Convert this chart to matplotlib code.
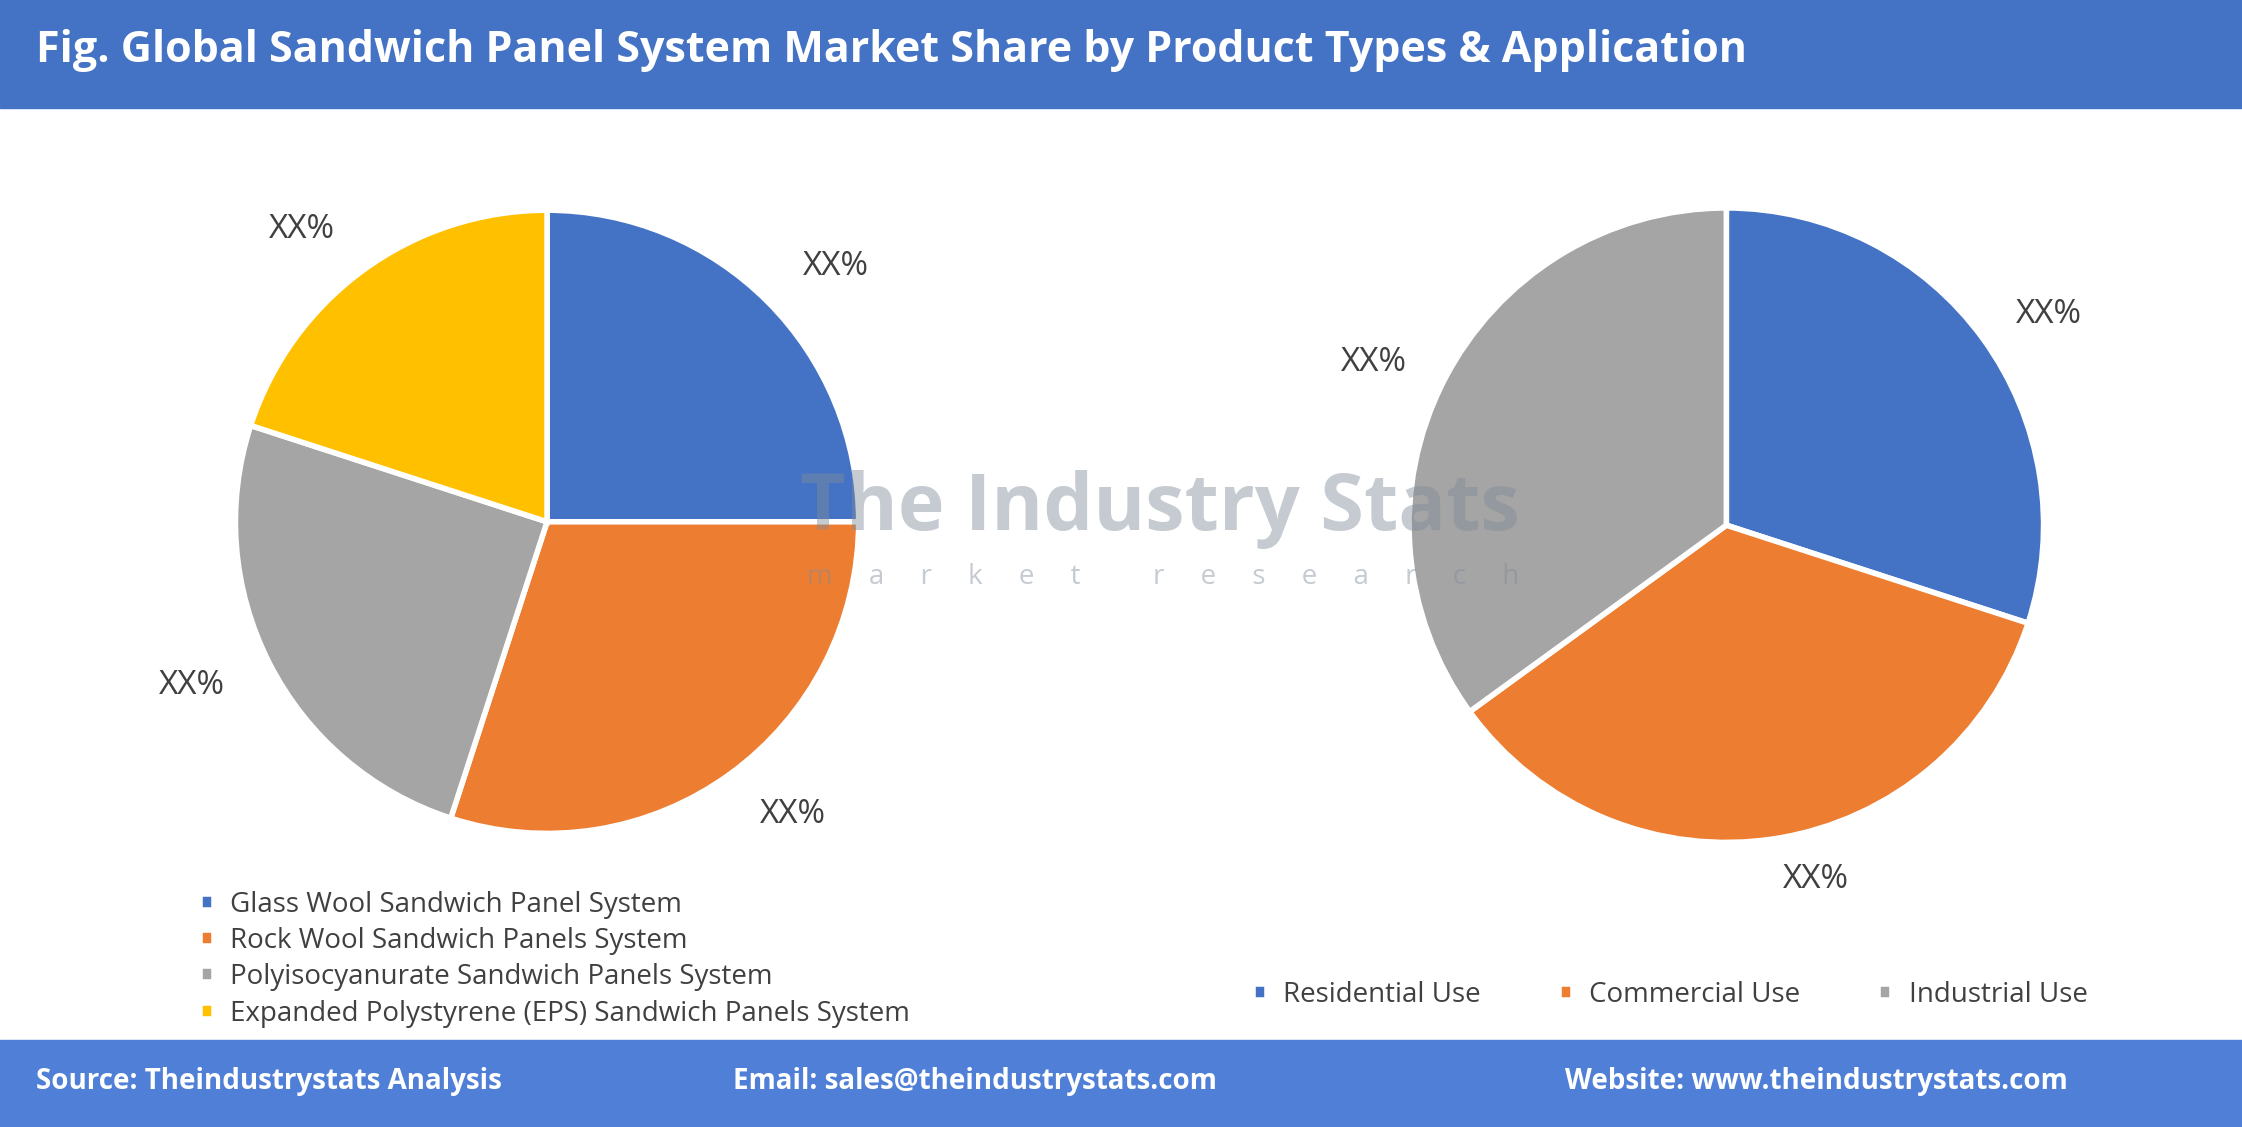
import matplotlib.pyplot as plt
from matplotlib.patches import Rectangle

plt.rcParams['font.family'] = ['Open Sans', 'DejaVu Sans']

product_types = ['Glass Wool Sandwich Panel System',
                 'Rock Wool Sandwich Panels System',
                 'Polyisocyanurate Sandwich Panels System',
                 'Expanded Polystyrene (EPS) Sandwich Panels System']
product_share = [25, 30, 25, 20]
product_colors = ['#4472C4', '#ED7D31', '#A5A5A5', '#FFC000']

applications = ['Residential Use', 'Commercial Use', 'Industrial Use']
application_share = [30, 35, 35]
application_colors = ['#4472C4', '#ED7D31', '#A5A5A5']

fig = plt.figure(figsize=(22.42, 11.27), dpi=100)
fig.patch.set_facecolor('white')

# header and footer bands
fig.patches.append(Rectangle((0, 0.904), 1, 0.096, transform=fig.transFigure, color='#4472C4', zorder=0))
fig.patches.append(Rectangle((0, 0), 1, 0.077, transform=fig.transFigure, color='#4F7FD6', zorder=0))
fig.text(0.016, 0.955, 'Fig. Global Sandwich Panel System Market Share by Product Types & Application',
         color='white', fontsize=31, fontweight='bold', va='center')
fig.text(0.016, 0.040, 'Source: Theindustrystats Analysis', color='white', fontsize=20, fontweight='bold', va='center')
fig.text(0.327, 0.040, 'Email: sales@theindustrystats.com', color='white', fontsize=20, fontweight='bold', va='center')
fig.text(0.698, 0.040, 'Website: www.theindustrystats.com', color='white', fontsize=20, fontweight='bold', va='center')

# watermark
fig.text(0.357, 0.548, 'The Industry Stats', fontsize=57, fontweight='bold', color='#7F8C99', alpha=0.45, va='center')
fig.text(0.36, 0.488, 'm     a     r     k     e     t          r     e     s     e     a     r     c     h',
         fontsize=20, color='#7F8C99', alpha=0.45, va='center')

wedge = dict(edgecolor='white', linewidth=4)

ax1 = fig.add_axes([0.244 - 0.139, 0.537 - 0.2765, 0.278, 0.553])
w1, t1 = ax1.pie(product_share, colors=product_colors, startangle=90, counterclock=False,
                 labels=['XX%'] * len(product_share), labeldistance=1.16,
                 textprops=dict(fontsize=24, color='#404040'), wedgeprops=wedge)
ax1.set_xlim(-1, 1)
ax1.set_ylim(-1, 1)
ax1.set_aspect('equal')
for t in t1:
    t.set_clip_on(False)
fig.legend(w1, product_types, loc='upper left', bbox_to_anchor=(0.078, 0.232), frameon=False,
           fontsize=20, handlelength=0.5, handleheight=0.5, handletextpad=0.6, labelspacing=0.3,
           labelcolor='#404040')

ax2 = fig.add_axes([0.770 - 0.1415, 0.534 - 0.2815, 0.283, 0.563])
w2, t2 = ax2.pie(application_share, colors=application_colors, startangle=90, counterclock=False,
                 labels=['XX%'] * len(application_share), labeldistance=1.13,
                 textprops=dict(fontsize=24, color='#404040'), wedgeprops=wedge)
ax2.set_xlim(-1, 1)
ax2.set_ylim(-1, 1)
ax2.set_aspect('equal')
for t in t2:
    t.set_clip_on(False)
fig.legend(w2, applications, loc='center', bbox_to_anchor=(0.745, 0.117), frameon=False, ncol=3,
           fontsize=20, handlelength=0.5, handleheight=0.5, handletextpad=0.6, columnspacing=2.8,
           labelcolor='#404040')

fig.savefig('out.png', dpi=100)
